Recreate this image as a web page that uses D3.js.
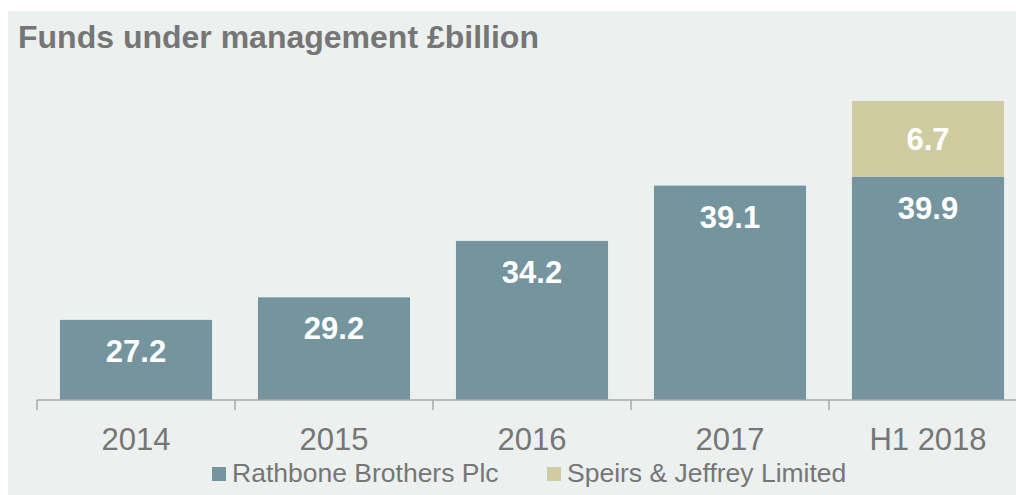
<!DOCTYPE html>
<html>
<head>
<meta charset="utf-8">
<script src="https://cdn.jsdelivr.net/npm/d3@7"></script>
<style>
  body { margin: 0; background: #fff; }
  svg { display: block; font-family: "Liberation Sans", Arial, sans-serif; }
</style>
</head>
<body>
<div id="chart"></div>
<script>
// ========================================
// Data
// ========================================
const categories = ['2014', '2015', '2016', '2017', 'H1 2018'];
const rathbone   = [27.2, 29.2, 34.2, 39.1, 39.9];   // Rathbone Brothers Plc
const speirs     = [0, 0, 0, 0, 6.7];                // Speirs & Jeffrey Limited
const seriesNames = ['Rathbone Brothers Plc', 'Speirs & Jeffrey Limited'];
const seriesColors = ['#74949e', '#cfcca2'];
const title = 'Funds under management £billion';

// ========================================
// Dimensions
// ========================================
const width = 1016,
      height = 495,
      baseY = 400,      // category axis line
      topY = 101,       // top of tallest stack
      axisLeft = 37,
      step = 198,
      textGrey = '#767676';

const svg = d3.select('#chart')
  .append('svg')
    .attr('width', width)
    .attr('height', height);

// panel background
svg.append('rect')
  .attr('x', 8).attr('y', 11)
  .attr('width', width - 8).attr('height', height - 11)
  .attr('fill', '#ecf0ef');

// title
svg.append('text')
  .attr('x', 18).attr('y', 48)
  .attr('font-size', 32).attr('font-weight', 'bold')
  .attr('fill', textGrey)
  .text(title);

// ========================================
// Scales
// ========================================
const x = d3.scaleBand()
  .domain(categories)
  .range([axisLeft, axisLeft + step * categories.length])
  .paddingInner(0.232)
  .paddingOuter(0.116);

const totals = rathbone.map((v, i) => v + speirs[i]);
const y = d3.scaleLinear()
  .domain([20.1, d3.max(totals)])   // value axis does not start at zero
  .range([baseY, topY]);

// ========================================
// Bars
// ========================================
const rows = categories.map((c, i) => ({ cat: c, r: rathbone[i], s: speirs[i] }));

svg.selectAll('rect.rath')
  .data(rows)
  .enter()
  .append('rect')
    .attr('class', 'rath')
    .attr('x', d => x(d.cat))
    .attr('y', d => y(d.r))
    .attr('width', x.bandwidth())
    .attr('height', d => baseY - y(d.r))
    .attr('fill', seriesColors[0]);

svg.selectAll('rect.speirs')
  .data(rows.filter(d => d.s > 0))
  .enter()
  .append('rect')
    .attr('class', 'speirs')
    .attr('x', d => x(d.cat))
    .attr('y', d => y(d.r + d.s))
    .attr('width', x.bandwidth())
    .attr('height', d => y(d.r) - y(d.r + d.s))
    .attr('fill', seriesColors[1]);

// value labels
svg.selectAll('text.vr')
  .data(rows)
  .enter()
  .append('text')
    .attr('class', 'vr')
    .attr('x', d => x(d.cat) + x.bandwidth() / 2)
    .attr('y', d => y(d.r) + 42)
    .attr('text-anchor', 'middle')
    .attr('font-size', 31).attr('font-weight', 'bold')
    .attr('fill', '#fff')
    .text(d => d.r.toFixed(1));

svg.selectAll('text.vs')
  .data(rows.filter(d => d.s > 0))
  .enter()
  .append('text')
    .attr('class', 'vs')
    .attr('x', d => x(d.cat) + x.bandwidth() / 2)
    .attr('y', d => (y(d.r) + y(d.r + d.s)) / 2 + 11)
    .attr('text-anchor', 'middle')
    .attr('font-size', 31).attr('font-weight', 'bold')
    .attr('fill', '#fff')
    .text(d => d.s.toFixed(1));

// ========================================
// Category axis
// ========================================
const axis = svg.append('g')
  .attr('transform', 'translate(0,' + baseY + ')')
  .call(d3.axisBottom(x).tickSize(0).tickPadding(0));

axis.select('.domain').remove();
axis.selectAll('text')
  .attr('y', 50)
  .attr('dy', null)
  .attr('font-size', 31)
  .attr('font-family', '"Liberation Sans", Arial, sans-serif')
  .attr('fill', textGrey);

// line and boundary ticks
axis.append('line')
  .attr('x1', axisLeft).attr('x2', width)
  .attr('stroke', '#a8a8a8').attr('stroke-width', 1.5);

axis.selectAll('line.bound')
  .data(d3.range(categories.length + 1))
  .enter()
  .append('line')
    .attr('class', 'bound')
    .attr('x1', i => axisLeft + i * x.step())
    .attr('x2', i => axisLeft + i * x.step())
    .attr('y1', 0).attr('y2', 10)
    .attr('stroke', '#a8a8a8').attr('stroke-width', 1.5);

// ========================================
// Legend
// ========================================
const legendX = [212, 547];
const legend = svg.selectAll('g.legend')
  .data(seriesNames)
  .enter()
  .append('g')
    .attr('class', 'legend')
    .attr('transform', (d, i) => 'translate(' + legendX[i] + ',0)');

legend.append('rect')
  .attr('x', 0).attr('y', 467)
  .attr('width', 14).attr('height', 14)
  .attr('fill', (d, i) => seriesColors[i]);

legend.append('text')
  .attr('x', 20).attr('y', 482)
  .attr('font-size', 26.5)
  .attr('fill', textGrey)
  .text(d => d);
</script>
</body>
</html>
